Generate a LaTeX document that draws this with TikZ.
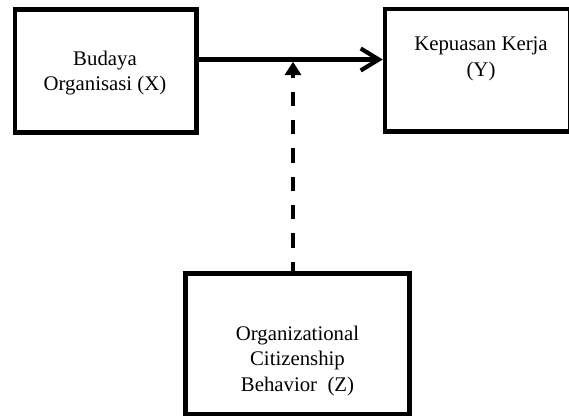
\documentclass[tikz,border=0pt]{standalone}
\usepackage{fontspec}
\setmainfont{Liberation Serif}
\usetikzlibrary{arrows.meta,calc}
\begin{document}
\begin{tikzpicture}[x=0.5pt,y=-0.5pt,
  box/.style={draw,line width=2.25pt,rectangle,inner sep=0pt},
  lbl/.style={align=center,font=\fontsize{10.4}{12.8}\selectfont,inner sep=0pt},
  conn/.style={line width=2.1pt}]
\useasboundingbox (0,0) rectangle (569,416);
\clip (0,0) rectangle (569,416);
\node[box,minimum width=90.75pt,minimum height=61.5pt] (X) at (105.75,71) {};
\node[box,minimum width=92.75pt,minimum height=61.25pt] (Y) at (477.75,70.25) {};
\node[box,minimum width=112pt,minimum height=70.5pt] (Z) at (297.5,344) {};
\node[lbl] (xt) at (105,73) {Budaya\\Organisasi (X)};
\node[lbl] (yt) at (481,59) {Kepuasan Kerja\\(Y)};
\node[lbl] (zt) at (297.5,361) {Organizational\\Citizenship\\Behavior\ \ (Z)};
\coordinate (m) at (293,59.5);
\coordinate (mt) at (293,61.7);
\draw[conn,-{Straight Barb[length=9pt,width=11pt,line width=2.1pt]}] (X.east |- m) -- (Y.west |- m);
\draw[conn,dash pattern=on 7.15pt off 7pt,dash phase=1.25pt,-{Triangle[length=6.7pt,width=8pt]}] ([yshift=-1.125pt]Z.north -| m) -- (mt);
\end{tikzpicture}
\end{document}
